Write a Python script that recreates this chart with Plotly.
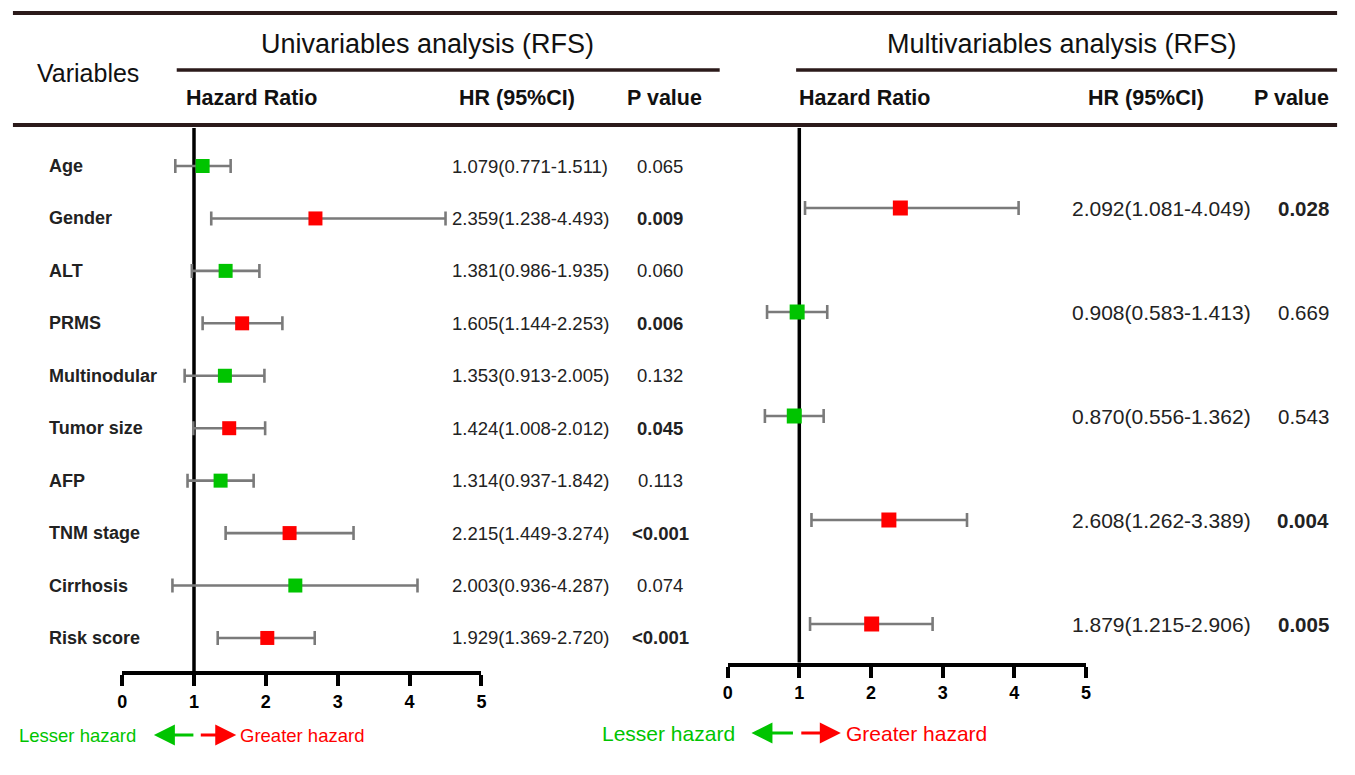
import plotly.graph_objects as go

# ---------------- data ----------------
uni_vars = ["Age", "Gender", "ALT", "PRMS", "Multinodular", "Tumor size",
            "AFP", "TNM stage", "Cirrhosis", "Risk score"]
uni_hr_text = ["1.079(0.771-1.511)", "2.359(1.238-4.493)", "1.381(0.986-1.935)",
               "1.605(1.144-2.253)", "1.353(0.913-2.005)", "1.424(1.008-2.012)",
               "1.314(0.937-1.842)", "2.215(1.449-3.274)", "2.003(0.936-4.287)",
               "1.929(1.369-2.720)"]
uni_p = ["0.065", "0.009", "0.060", "0.006", "0.132", "0.045", "0.113",
         "<0.001", "0.074", "<0.001"]
uni_point = [1.12, 2.69, 1.44, 1.67, 1.43, 1.49, 1.37, 2.33, 2.41, 2.02]
uni_low = [0.74, 1.24, 0.97, 1.12, 0.87, 0.99, 0.91, 1.44, 0.70, 1.33]
uni_high = [1.51, 4.50, 1.91, 2.23, 1.98, 1.99, 1.83, 3.22, 4.11, 2.68]

multi_vars = ["Gender", "PRMS", "Tumor size", "TNM stage", "Risk score"]
multi_hr_text = ["2.092(1.081-4.049)", "0.908(0.583-1.413)", "0.870(0.556-1.362)",
                 "2.608(1.262-3.389)", "1.879(1.215-2.906)"]
multi_p = ["0.028", "0.669", "0.543", "0.004", "0.005"]
multi_point = [2.41, 0.97, 0.93, 2.25, 2.01]
multi_low = [1.08, 0.55, 0.52, 1.17, 1.15]
multi_high = [4.06, 1.39, 1.34, 3.34, 2.86]

x_ticks = [0, 1, 2, 3, 4, 5]

# ---------------- style ----------------
W, H = 1355, 775
FONT = "Liberation Sans, Arial, sans-serif"
GREEN = "#00C400"
RED = "#FF0000"
LINE_DARK = "#2b1a1a"
TXT = "#222222"


def px(x):
    return x / W


def py(y):
    return 1 - y / H


def sig(p):
    return float(p.lstrip("<")) < 0.05


fig = go.Figure()


def add_forest(points, lows, highs, pvals, xa, ya, size):
    rows = list(range(len(points)))
    fig.add_trace(go.Scatter(
        x=points, y=rows, xaxis=xa, yaxis=ya, mode="markers",
        marker=dict(symbol="square", size=size,
                    color=[RED if sig(p) else GREEN for p in pvals]),
        error_x=dict(type="data", symmetric=False,
                     array=[h - p for h, p in zip(highs, points)],
                     arrayminus=[p - l for p, l in zip(points, lows)],
                     color="#7a7a7a", thickness=2.6, width=7),
        showlegend=False, hoverinfo="skip", cliponaxis=False,
    ))


add_forest(uni_point, uni_low, uni_high, uni_p, "x", "y", 14)
add_forest(multi_point, multi_low, multi_high, multi_p, "x2", "y2", 15)

# axes geometry (pixels)
L_X0, L_X1, L_TOP, L_BOT = 118, 480, 128, 671
R_X0, R_X1, R_TOP, R_BOT = 728, 1089, 128, 662.5
L_ROW0, L_STEP = 166, 52.44
R_ROW0, R_STEP = 208, 104

axis_common = dict(range=[0, 5], tickvals=x_ticks, showline=True, linecolor="black",
                   linewidth=4, ticks="outside", ticklen=11, tickwidth=3.5,
                   tickcolor="black", showgrid=False, zeroline=False, fixedrange=True,
                   tickfont=dict(family=FONT, size=18, color="black", weight="bold"))

fig.update_layout(
    width=W, height=H, margin=dict(l=0, r=0, t=0, b=0),
    paper_bgcolor="white", plot_bgcolor="white",
    xaxis=dict(domain=[px(L_X0), px(L_X1)], anchor="y", **axis_common),
    yaxis=dict(domain=[py(L_BOT), py(L_TOP)], anchor="x", visible=False,
               range=[(L_BOT - L_ROW0) / L_STEP, (L_TOP - L_ROW0) / L_STEP],
               fixedrange=True),
    xaxis2=dict(domain=[px(R_X0), px(R_X1)], anchor="y2", **axis_common),
    yaxis2=dict(domain=[py(R_BOT), py(R_TOP)], anchor="x2", visible=False,
                range=[(R_BOT - R_ROW0) / R_STEP, (R_TOP - R_ROW0) / R_STEP],
                fixedrange=True),
)

shapes = []
# reference lines at HR = 1
shapes.append(dict(type="line", xref="x", yref="paper", x0=1, x1=1,
                   y0=py(L_BOT), y1=py(L_TOP), line=dict(color="black", width=3.5),
                   layer="below"))
shapes.append(dict(type="line", xref="x2", yref="paper", x0=1, x1=1,
                   y0=py(R_BOT), y1=py(R_TOP), line=dict(color="black", width=3.5),
                   layer="below"))
# header rules
for (x0, x1, y, w) in [(8, 1342, 13, 4), (173, 720, 70, 3.5), (797, 1342, 70, 3.5),
                       (8, 1342, 125, 4)]:
    shapes.append(dict(type="line", xref="paper", yref="paper", x0=px(x0), x1=px(x1),
                       y0=py(y), y1=py(y), line=dict(color=LINE_DARK, width=w)))
fig.update_layout(shapes=shapes)

ann = []


def text(x, y, s, size, anchor="left", bold=False, color=TXT, yref="paper"):
    ann.append(dict(x=px(x), y=(py(y) if yref == "paper" else y), xref="paper", yref=yref,
                    text=(f"<b>{s}</b>" if bold else s), showarrow=False,
                    xanchor=anchor, yanchor="middle", borderpad=0, borderwidth=0,
                    font=dict(family=FONT, size=size, color=color)))


# headers
text(84, 73, "Variables", 25, "center", color="#111111")
text(426, 44, "Univariables analysis (RFS)", 27, "center", color="#111111")
text(1065, 44, "Multivariables analysis (RFS)", 27, "center", color="#111111")
text(182, 98, "Hazard Ratio", 21.5, "left", True, "#111111")
text(516, 98, "HR (95%CI)", 21.5, "center", True, "#111111")
text(664, 98, "P value", 21.5, "center", True, "#111111")
text(800, 98, "Hazard Ratio", 21.5, "left", True, "#111111")
text(1149, 98, "HR (95%CI)", 21.5, "center", True, "#111111")
text(1296, 98, "P value", 21.5, "center", True, "#111111")

# left table
for i, (v, hr, p) in enumerate(zip(uni_vars, uni_hr_text, uni_p)):
    text(44, i, v, 18, "left", True, yref="y")
    text(450, i, hr, 18.5, "left", yref="y")
    text(660, i, p, 18.5, "center", sig(p), yref="y")

# right table
for i, (hr, p) in enumerate(zip(multi_hr_text, multi_p)):
    text(1075, i, hr, 21, "left", yref="y2")
    text(1308, i, p, 20.5, "center", sig(p), yref="y2")

# direction legends
text(14, 735, "Lesser hazard", 18.5, "left", color=GREEN)
text(237, 735, "Greater hazard", 18.5, "left", color=RED)
text(601, 733, "Lesser hazard", 21, "left", color=GREEN)
text(847, 733, "Greater hazard", 21, "left", color=RED)


def arrow(head_x, tail_x, y, color):
    ann.append(dict(x=px(head_x), y=py(y), xref="paper", yref="paper", text="",
                    showarrow=True, ax=tail_x - head_x, ay=0, axref="pixel", ayref="pixel",
                    arrowhead=2, arrowsize=1.4, arrowwidth=3, arrowcolor=color,
                    standoff=0, startstandoff=0))


arrow(150, 191, 735, GREEN)
arrow(233, 196, 735, RED)
arrow(752, 795, 733, GREEN)
arrow(842, 801, 733, RED)

fig.update_layout(annotations=ann)

fig.write_html("out.html", config={"displayModeBar": False},
               post_script="document.body.style.margin='0px';"
                           "document.body.style.overflow='hidden';")
